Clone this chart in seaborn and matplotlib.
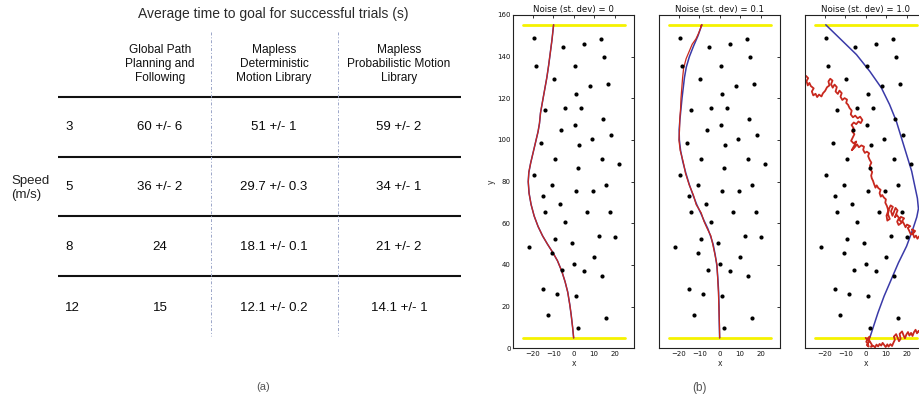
import matplotlib
matplotlib.use("Agg")
import matplotlib.pyplot as plt
import seaborn as sns

sns.set_theme(style="white")
plt.rcParams["font.family"] = ["DejaVu Sans"]
plt.rcParams["axes.unicode_minus"] = True
TABLE_FONT = ["Liberation Sans", "DejaVu Sans"]

# ---------------- (a) table of average times ----------------
table_title = "Average time to goal for successful trials (s)"
methods = ["Global Path\nPlanning and\nFollowing",
           "Mapless\nDeterministic\nMotion Library",
           "Mapless\nProbabilistic Motion\nLibrary"]
speeds = ["3", "5", "8", "12"]
speed_label = "Speed\n(m/s)"
time_global = ["60 +/- 6", "36 +/- 2", "24", "15"]
time_deterministic = ["51 +/- 1", "29.7 +/- 0.3", "18.1 +/- 0.1", "12.1 +/- 0.2"]
time_probabilistic = ["59 +/- 2", "34 +/- 1", "21 +/- 2", "14.1 +/- 1"]

# ---------------- (b) obstacle field and trajectories ----------------
noise_levels = ["0", "0.1", "1.0"]
goal_y = [5, 155]
goal_x = [-25, 25]

obstacle_x = [-19.3, -5.0, 5.3, 13.4, 15.0, -18.4, 0.9, -9.7, 8.0, 16.8, 1.2,
              -14.0, -4.3, 3.8, 14.5, 0.7, -6.2, 9.2, 18.3, -16.0, 2.4, -8.9,
              14.1, 22.0, 2.0, -19.3, -10.5, 16.0, 1.1, 9.4, -14.9, -6.6, -14.2,
              6.3, 18.0, -4.1, 12.3, 20.2, -9.2, -0.9, -21.6, -10.5, 10.1, 0.4,
              -5.5, 5.3, 14.0, -14.9, -8.2, 1.1, -12.6, 15.7, 2.2]
obstacle_y = [149.1, 144.6, 146.0, 148.6, 139.6, 135.6, 135.6, 129.1, 125.9,
              126.8, 122.2, 114.3, 115.5, 115.5, 110.2, 107.1, 104.7, 100.7,
              102.3, 98.7, 97.7, 91.0, 90.8, 88.4, 86.5, 83.3, 78.6, 78.6, 75.5,
              75.3, 73.2, 69.4, 65.5, 65.5, 65.4, 60.7, 53.7, 53.4, 52.7, 50.5,
              48.7, 45.8, 43.6, 40.4, 37.5, 37.1, 34.5, 28.7, 26.2, 25.1, 15.8,
              14.5, 9.8]

# noise 0: planned and executed paths coincide
path0_x = [0, -0.5, -1.2, -1.9, -2.9, -4.2, -5.8, -7.9, -10.2, -12.8, -15.2,
           -17.4, -19.3, -20.8, -21.8, -22.2, -21.9, -21.0, -19.8, -18.6, -17.4,
           -16.7, -16.2, -15.3, -14.2, -13.1, -12.2, -11.4, -10.6, -9.8]
path0_y = [5, 10, 16, 21, 27, 32, 37, 42, 46, 50, 54, 58.5, 63.5, 69, 74.5, 80,
           84.5, 89, 94, 99, 104, 108, 113, 118, 124, 130, 136, 142, 148, 155.3]

# noise 0.1
plan1_x = [0, -0.2, -0.3, -0.5, -0.9, -1.4, -2.2, -3.2, -4.5, -5.8, -7.5, -9.3,
           -11.2, -13.0, -14.8, -16.5, -18.0, -19.1, -19.7, -19.8, -19.4, -18.9,
           -18.4, -17.8, -17.2, -16.3, -14.8, -12.8, -10.6, -8.7]
plan1_y = [5, 12, 20, 27, 34, 40, 45, 50, 54, 57.5, 61, 65, 69, 73.5, 78.5, 84,
           89.5, 95, 100, 105, 110, 115, 120, 125, 130, 135, 140, 145, 150, 155.3]
run1_x = [0, -0.1, -0.4, -0.6, -1.0, -1.3, -2.3, -3.4, -4.3, -6.1, -7.7, -9.0,
          -11.5, -12.8, -14.9, -16.7, -17.8, -19.3, -19.9, -19.6, -19.5, -19.1,
          -18.9, -18.5, -18.1, -17.6, -16.4, -14.9, -13.4, -11.6, -10.4, -9.6,
          -8.7, -9.2, -8.9]
run1_y = [5, 12, 20, 27, 34, 40, 45, 50, 54, 57.5, 61, 65, 69, 73.5, 78.5, 84,
          89.5, 95, 100, 105, 110, 115, 120, 125, 130, 134.5, 139, 142.5, 146,
          148.5, 151, 153, 155.3, 154.4, 155.1]

# noise 1.0
plan2_x = [2, 4, 6, 9, 12.5, 16, 20, 23, 25, 25.8, 25.3, 24, 22.5, 20, 17.5, 15,
           11.7, 7.7, 2, -4.5, -11.1, -19.5]
plan2_y = [5, 11, 17, 25, 33, 41, 49, 57, 63, 67, 72, 78, 85, 93, 101, 109, 117,
           125, 133, 141, 147.3, 155.3]
run2_x = [0, 0.8, 0.3, 1.2, 0.6, 1.5, 0.9, 1.8, 1.1, 2.0, 1.4, 2.3, 3.1, 2.6, 3.8,
          4.6, 5.3, 6.1, 6.8, 7.6, 8.3, 9.1, 9.8, 10.6, 11.2, 12.1, 12.9, 13.6,
          14.3, 13.8, 14.9, 15.6, 16.3, 17.1, 16.6, 17.8, 18.5, 19.2, 19.9, 20.7,
          21.4, 22.2, 22.9, 23.6, 24.4, 25.1, 25.9, 26.8, 27.6, 28.5, 31, 31,
          27.5, 26.2, 25.3, 24.6, 23.8, 23.1, 24.2, 22.6, 23.5, 22.1, 21.4, 20.6,
          21.8, 20.2, 19.5, 18.7, 17.9, 18.8, 17.2, 16.5, 17.6, 16.1, 15.4, 16.3,
          15.1, 14.3, 15.6, 14.6, 13.8, 13.1, 12.4, 13.3, 12.2, 11.4, 10.9, 11.8,
          10.6, 10.2, 11.1, 10.4, 9.6, 9.9, 8.9, 8.1, 7.4, 6.8, 7.3, 6.2, 5.4, 4.8,
          4.1, 3.6, 3.0, 2.7, 3.2, 2.4, 2.1, 2.8, 1.9, 1.2, 1.7, 0.6, -0.4, -1.2,
          -0.8, -2.1, -3.3, -4.2, -5.6, -6.8, -5.4, -4.6, -5.9, -7.1, -6.3, -5.5,
          -6.6, -5.9, -6.9, -5.8, -4.6, -3.5, -2.4, -1.6, -2.7, -3.9, -5.1, -6.2,
          -7.3, -6.8, -7.9, -8.6, -9.5, -9.1, -10.3, -11.4, -12.3, -11.7, -12.8,
          -13.6, -14.7, -14.1, -15.2, -16.1, -16.9, -16.2, -17.3, -18.2, -17.7,
          -18.9, -19.8, -20.9, -21.6, -22.8, -23.7, -24.5, -25.6, -26.3, -25.4,
          -26.8, -27.5, -28.3, -28.9, -28.1, -29.2, -31]
run2_y = [5, 4.2, 3.1, 2.4, 1.5, 0.8, 2.2, 3.6, 4.8, 5.6, 4.1, 2.9, 1.6, 0.7, 1.2,
          0.4, 1.8, 0.9, 2.1, 1.3, 2.6, 1.5, 0.6, 1.9, 0.8, 2.0, 1.1, 2.7, 4.1,
          5.6, 6.8, 5.2, 3.4, 4.6, 6.9, 8.1, 6.3, 4.8, 6.6, 7.8, 6.1, 7.4, 5.9,
          7.7, 8.9, 7.2, 8.4, 6.8, 8.0, 7.1, 8, 52, 52.5, 53.8, 52.6, 54.1, 53.2,
          55.0, 56.3, 57.1, 55.8, 54.6, 56.2, 57.8, 58.6, 59.4, 58.1, 59.8, 61.2,
          62.4, 63.1, 61.7, 60.3, 59.2, 60.8, 62.6, 64.1, 62.9, 66.2, 67.4, 65.3,
          63.6, 65.8, 67.9, 68.6, 66.9, 64.4, 62.1, 61.3, 63.7, 66.1, 68.3, 69.9,
          71.5, 72.4, 73.6, 72.8, 74.5, 76.1, 76.9, 78.2, 77.1, 78.9, 80.4, 81.6,
          82.9, 84.6, 85.8, 87.7, 89.1, 90.6, 92.3, 93.6, 94.4, 93.8, 95.3, 96.8,
          97.4, 96.5, 97.9, 96.2, 95.1, 97.6, 99.3, 98.4, 99.6, 101.2, 102.8,
          104.1, 105.7, 107.2, 108.4, 107.6, 108.9, 108.1, 109.6, 111.2, 110.4,
          111.7, 110.9, 112.3, 114.1, 115.4, 116.9, 117.8, 119.4, 120.1, 119.2,
          120.8, 122.5, 123.7, 122.1, 123.3, 125.4, 126.6, 125.1, 126.8, 128.5,
          129.4, 128.1, 126.2, 125.3, 123.6, 122.4, 120.9, 121.8, 120.6, 122.2,
          121.4, 123.3, 124.8, 125.9, 127.4, 126.2, 128.3, 129.7, 130.8, 131]

planned = [(path0_x, path0_y), (plan1_x, plan1_y), (plan2_x, plan2_y)]
executed = [(path0_x, path0_y), (run1_x, run1_y), (run2_x, run2_y)]

W, H = 920, 400
fig = plt.figure(figsize=(W / 100, H / 100), dpi=100)
fig.patch.set_facecolor("white")

# ---- table drawn on a full-figure canvas in pixel units ----
tab = fig.add_axes([0, 0, 1, 1], zorder=0)
tab.set_xlim(0, W)
tab.set_ylim(H, 0)
tab.axis("off")

col_x = [160, 274, 399]
row_y = [127.5, 187.5, 247, 308]
rule_y = [96.5, 156.5, 216, 276]
tab.text(273, 14, table_title, ha="center", va="center", fontsize=10,
         color="#2a2a2a", family=TABLE_FONT)
for cx, name in zip(col_x, methods):
    tab.text(cx, 64, name, ha="center", va="center", fontsize=8.6,
             color="#111111", family=TABLE_FONT, linespacing=1.25)
for ry in rule_y:
    tab.plot([58, 461], [ry, ry], color="#111111", lw=1.5, solid_capstyle="butt")
for vx in [211, 338]:
    tab.plot([vx, vx], [32, 336], color="#9aa5c8", lw=0.7, ls=(0, (3, 2, 1, 2)))
columns = [time_global, time_deterministic, time_probabilistic]
for i, ry in enumerate(row_y):
    tab.text(65, ry, speeds[i], ha="left", va="center", fontsize=9.5,
             color="#0a0a0a", family=TABLE_FONT)
    for cx, col in zip(col_x, columns):
        tab.text(cx, ry, col[i], ha="center", va="center", fontsize=9.5,
                 color="#0a0a0a", family=TABLE_FONT)
tab.text(11, 188, speed_label, ha="left", va="center", fontsize=9.5,
         color="#222222", family=TABLE_FONT, linespacing=1.2)
tab.text(263, 387, "(a)", ha="center", va="center", fontsize=8,
         color="#555555", family=TABLE_FONT)
tab.text(700, 388, "(b)", ha="center", va="center", fontsize=8.5,
         color="#555555", family=TABLE_FONT)

# ---- trajectory panels ----
lefts = [513.3, 659.3, 805.3]
ax_w, ax_b, ax_h = 120.7, 51.7, 333.3
for k, left in enumerate(lefts):
    ax = fig.add_axes([left / W, ax_b / H, ax_w / W, ax_h / H], zorder=2)
    ax.set_facecolor("white")
    for gy in goal_y:
        sns.lineplot(x=goal_x, y=[gy, gy], color="#f5f200", lw=2.0, ax=ax,
                     estimator=None, sort=False)
    sns.scatterplot(x=obstacle_x, y=obstacle_y, color="black", s=9,
                    linewidth=0, ax=ax, zorder=3)
    px, py = planned[k]
    sns.lineplot(x=px, y=py, color="#3a3aa8", lw=1.1, ax=ax,
                 estimator=None, sort=False)
    rx, ry_ = executed[k]
    sns.lineplot(x=rx, y=ry_, color="#c8281e", lw=0.9 if k < 2 else 1.3,
                 ax=ax, estimator=None, sort=False)
    ax.set_xlim(-29.5, 29.5)
    ax.set_ylim(0, 160)
    ax.set_xticks([-20, -10, 0, 10, 20])
    ax.set_yticks(range(0, 161, 20))
    ax.tick_params(direction="in", top=True, right=True, length=2.5, width=0.6,
                   labelsize=5, pad=2, colors="#111111")
    if k > 0:
        ax.tick_params(labelleft=False)
    else:
        ax.set_ylabel("y", fontsize=5.5, labelpad=1)
    ax.set_xlabel("x", fontsize=5.5, labelpad=1.5)
    ax.set_title(f"Noise (st. dev) = {noise_levels[k]}", fontsize=6.2, pad=2.5,
                 color="#111111")
    for sp in ax.spines.values():
        sp.set_color("#222222")
        sp.set_linewidth(0.8)

fig.savefig("out.png", dpi=100, facecolor="white")
